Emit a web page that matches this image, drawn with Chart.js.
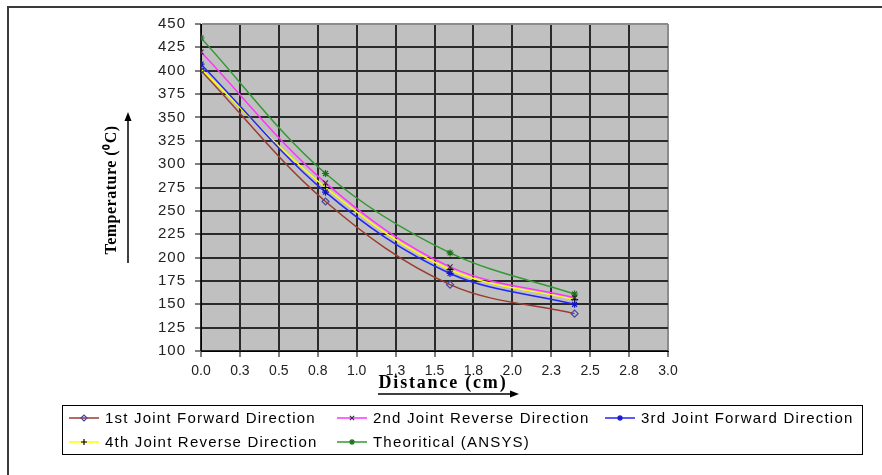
<!DOCTYPE html>
<html>
<head>
<meta charset="utf-8">
<script src="https://cdn.jsdelivr.net/npm/chart.js"></script>
<style>
  html, body { margin: 0; padding: 0; background: #fff; }
  #wrap { width: 882px; height: 475px; }
</style>
</head>
<body>
<div id="wrap"><canvas id="myChart" width="882" height="475"></canvas></div>
<script>
// data
const distance = [0, 0.8, 1.6, 2.4];
const joint1Fwd = [400, 260, 171, 140];
const joint2Rev = [420, 280, 190, 157];
const joint3Fwd = [407, 270, 183, 150];
const joint4Rev = [402, 275, 187, 155];
const ansys = [435, 290, 205, 161];
const seriesNames = ['1st Joint Forward Direction', '2nd Joint Reverse Direction', '3rd Joint Forward Direction', '4th Joint Reverse Direction', 'Theoritical (ANSYS)'];
const xTickLabels = ['0.0', '0.3', '0.5', '0.8', '1.0', '1.3', '1.5', '1.8', '2.0', '2.3', '2.5', '2.8', '3.0'];
const xTitle = 'Distance (cm)';
const yTitle = 'Temperature (⁰C)';

const pts = arr => arr.map((v, i) => ({x: distance[i], y: v}));

function series(name, values, line, marker, style, radius, fill) {
  return {
    label: name,
    data: pts(values),
    borderColor: line,
    borderWidth: 1.5,
    tension: 0.35,
    pointStyle: style,
    pointRadius: radius,
    pointHoverRadius: radius,
    pointBorderColor: marker,
    pointBackgroundColor: fill || marker,
    pointBorderWidth: 1.2
  };
}

const datasets = [
  series(seriesNames[0], joint1Fwd, '#9B3A2F', '#4545A5', 'rectRot', 3.5, 'rgba(0,0,0,0)'),
  series(seriesNames[1], joint2Rev, '#FF33FF', '#333333', 'crossRot', 3.5),
  series(seriesNames[2], joint3Fwd, '#2323FF', '#1515C8', 'star', 3.5),
  series(seriesNames[3], joint4Rev, '#FFFF00', '#000000', 'cross', 3.5),
  series(seriesNames[4], ansys, '#339933', '#1F6F1F', 'star', 3.5)
];

// grey plot area, frame, axis titles, arrows and boxed legend
const decor = {
  id: 'decor',
  beforeDraw(chart) {
    const a = chart.chartArea, ctx = chart.ctx;
    ctx.save();
    ctx.fillStyle = '#C0C0C0';
    ctx.fillRect(a.left, a.top, a.right - a.left, a.bottom - a.top);
    ctx.restore();
  },
  afterDraw(chart) {
    const ctx = chart.ctx;
    ctx.save();
    // outer frame
    ctx.strokeStyle = '#3a3a3a';
    ctx.lineWidth = 2;
    ctx.beginPath();
    ctx.moveTo(8, 476); ctx.lineTo(8, 7); ctx.lineTo(882, 7);
    ctx.stroke();

    // axis titles
    ctx.fillStyle = '#000';
    ctx.textAlign = 'center';
    ctx.textBaseline = 'middle';
    ctx.font = 'bold 18px "Liberation Serif", "Times New Roman", serif';
    ctx.letterSpacing = '1.8px';
    ctx.fillText(xTitle, 443, 383);
    ctx.save();
    ctx.translate(112, 190);
    ctx.rotate(-Math.PI / 2);
    ctx.font = 'bold 16px "Liberation Serif", "Times New Roman", serif';
    ctx.letterSpacing = '0.5px';
    ctx.fillText(yTitle, 0, 0);
    ctx.restore();
    ctx.letterSpacing = '0px';

    // arrows
    ctx.strokeStyle = '#000';
    ctx.lineWidth = 1.5;
    ctx.beginPath(); ctx.moveTo(128, 263); ctx.lineTo(128, 118); ctx.stroke();
    ctx.beginPath(); ctx.moveTo(128, 112); ctx.lineTo(124.5, 121); ctx.lineTo(131.5, 121); ctx.closePath(); ctx.fill();
    ctx.beginPath(); ctx.moveTo(378, 394); ctx.lineTo(513, 394); ctx.stroke();
    ctx.beginPath(); ctx.moveTo(519, 394); ctx.lineTo(510, 390.5); ctx.lineTo(510, 397.5); ctx.closePath(); ctx.fill();

    // legend
    ctx.textAlign = 'left';
    ctx.lineWidth = 1;
    ctx.strokeStyle = '#000';
    ctx.strokeRect(62.5, 405.5, 800, 49);
    ctx.font = '15px "Liberation Sans", Arial, sans-serif';
    chart.data.datasets.forEach((ds, i) => {
      const x0 = 69 + (i % 3) * 268;
      const y = 418 + Math.floor(i / 3) * 24;
      ctx.strokeStyle = ds.borderColor;
      ctx.lineWidth = ds.borderWidth;
      ctx.beginPath(); ctx.moveTo(x0, y); ctx.lineTo(x0 + 30, y); ctx.stroke();
      ctx.strokeStyle = ds.pointBorderColor;
      ctx.fillStyle = ds.pointBackgroundColor;
      ctx.lineWidth = ds.pointBorderWidth;
      if (Chart.helpers && Chart.helpers.drawPoint) {
        Chart.helpers.drawPoint(ctx, {pointStyle: ds.pointStyle, radius: 3, borderWidth: ds.pointBorderWidth, rotation: 0}, x0 + 15, y);
      }
      ctx.fillStyle = '#000';
      ctx.letterSpacing = '1.2px';
      ctx.fillText(ds.label, x0 + 36, y + 1);
      ctx.letterSpacing = '0px';
    });
    ctx.restore();
  }
};

const tickFont = { family: '"Liberation Sans", Arial, sans-serif', size: 14 };

// the y labels in the picture are a little wider than the x labels
function spreadLabels(scale) {
  if (scale._spread) return;
  const draw = scale.drawLabels.bind(scale);
  scale.drawLabels = function (area) {
    this.ctx.save();
    this.ctx.letterSpacing = '1px';
    draw(area);
    this.ctx.restore();
  };
  scale._spread = true;
}

new Chart(document.getElementById('myChart'), {
  type: 'line',
  data: { datasets: datasets },
  options: {
    responsive: false,
    animation: false,
    layout: { padding: { left: 100, right: 214, top: 24, bottom: 79 } },
    plugins: {
      legend: { display: false },
      tooltip: { enabled: false }
    },
    scales: {
      x: {
        type: 'linear',
        min: 0,
        max: 3,
        afterFit: s => { s.height = 45; },
        afterBuildTicks: s => { s.ticks = xTickLabels.map((t, i) => ({value: i * 0.25})); },
        ticks: {
          autoSkip: false,
          maxRotation: 0,
          padding: 6,
          color: '#222',
          font: tickFont,
          callback: (v, i) => xTickLabels[i]
        },
        grid: {
          color: ctx => ctx.index === xTickLabels.length - 1 ? '#8c8c8c' : '#2a2a2a',
          lineWidth: 2,
          tickColor: '#000',
          tickWidth: 1,
          tickLength: 6
        },
        border: { color: '#000', width: 1 }
      },
      y: {
        min: 100,
        max: 450,
        afterFit: s => { s.width = 101; },
        afterUpdate: spreadLabels,
        ticks: {
          stepSize: 25,
          padding: 9,
          color: '#222',
          font: { family: '"Liberation Sans", Arial, sans-serif', size: 15 }
        },
        grid: {
          color: ctx => ctx.index === 14 ? '#8c8c8c' : '#2a2a2a',
          lineWidth: 2,
          tickColor: '#000',
          tickWidth: 1,
          tickLength: 6
        },
        border: { color: '#000', width: 1 }
      }
    }
  },
  plugins: [decor]
});
</script>
</body>
</html>
